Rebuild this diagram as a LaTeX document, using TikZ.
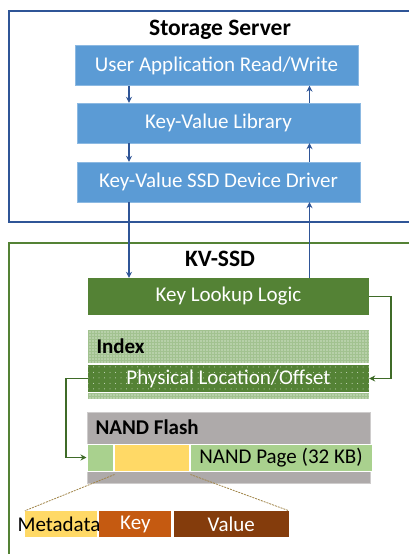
\documentclass[tikz,border=0pt]{standalone}
\usepackage{fontspec}
\setmainfont{Carlito}
\usetikzlibrary{arrows.meta,calc,patterns.meta}
\definecolor{srvblue}{HTML}{2F5597}
\definecolor{boxblue}{HTML}{5B9BD5}
\definecolor{ssdgreen}{HTML}{548235}
\definecolor{arrgreen}{HTML}{3F6B28}
\definecolor{idxgreen}{HTML}{A2C290}
\definecolor{pagegreen}{HTML}{A9D18E}
\definecolor{slotyellow}{HTML}{FFD966}
\definecolor{flashgray}{HTML}{AEAAAA}
\definecolor{keyorange}{HTML}{C55A11}
\definecolor{valbrown}{HTML}{843C0C}
\definecolor{zoomline}{HTML}{A08448}

\begin{document}
\begin{tikzpicture}[x=1pt,y=-1pt,
    txt/.style={font=\fontsize{21}{25}\selectfont},
    hdtxt/.style={font=\fontsize{21}{25}\selectfont\bfseries},
    ttl/.style={font=\fontsize{23.5}{28}\selectfont\bfseries},
    layer/.style={txt,text=white,fill=boxblue,draw=boxblue!70!white,minimum width=283,minimum height=40,inner sep=0},
    ssdbox/.style={txt,inner sep=0,minimum width=281},
    barr/.style={draw=srvblue,line width=1.5pt,-{Stealth[length=6pt,width=6pt]}},
    garr/.style={draw=arrgreen,line width=1.5pt,-{Stealth[length=6pt,width=6pt]}},
    cell/.style={txt,inner sep=0,minimum height=27,draw=white,line width=1pt}]
  \useasboundingbox (0,0) rectangle (409,554);
  \clip (0,0) rectangle (409,554);

  % host side
  \draw[srvblue,line width=2.5pt] (9,11) rectangle (420,222);
  \node[ttl] (srvtitle) at (220,30) {Storage Server};
  \node[layer] (app) at (216.5,65.5) {User Application Read/Write};
  \node[layer] (lib) at (218.5,123) {Key-Value Library};
  \node[layer] (drv) at (218.5,182) {Key-Value SSD Device Driver};
  \coordinate (dn) at (129,0);
  \coordinate (up) at (309.5,0);

  \draw[barr] (app.south -| dn) -- (lib.north -| dn);
  \draw[barr] (lib.south -| dn) -- (drv.north -| dn);
  \draw[barr] (lib.north -| up) -- (app.south -| up);
  \draw[barr] (drv.north -| up) -- (lib.south -| up);

  % device side
  \draw[ssdgreen,line width=2.5pt] (9,243) rectangle (420,570);
  \node[ttl] (ssdtitle) at (220,259) {KV-SSD};
  \node[ssdbox,fill=ssdgreen,text=white,minimum height=37] (lookup) at (228.5,296.5) {Key Lookup Logic};

  \draw[barr] (drv.south -| dn) -- (lookup.north -| dn);
  \draw[barr] (lookup.north -| up) -- (drv.south -| up);

  % index
  \node[ssdbox,minimum height=33,preaction={fill=idxgreen},pattern={Dots[distance=3pt,radius=0.55pt]},pattern color=white] (idx) at (228.5,346.5) {};
  \node[hdtxt,anchor=west] (idxlabel) at (93,346) {Index};
  \node[ssdbox,minimum height=27,text=white,preaction={fill=ssdgreen},pattern={Dots[distance=5.5pt,radius=0.5pt]},pattern color=white!75!ssdgreen] (loc) at (228.5,378.5) {Physical Location/Offset};
  \node[ssdbox,minimum height=6,preaction={fill=idxgreen},pattern={Dots[distance=3pt,radius=0.55pt]},pattern color=white] (idxend) at (228.5,396) {};

  \draw[garr] (lookup.east) -- ++(22,0) |- (loc.east);

  % flash
  \node[fill=flashgray,draw=flashgray!60!white,minimum width=283,minimum height=71,inner sep=0] (flash) at (228.5,447.5) {};
  \node[hdtxt,anchor=west] (flashlabel) at (92,427) {NAND Flash};
  \node[cell,fill=pagegreen,minimum width=26] (hdr) at (100,457.5) {};
  \node[cell,fill=slotyellow,minimum width=75,anchor=west] (slot) at (hdr.east) {};
  \node[cell,fill=pagegreen,minimum width=182,anchor=west] (page) at (slot.east) {NAND Page (32 KB)};

  \draw[garr] (loc.west) -- ++(-22,0) |- (hdr.west);

  % one pair
  \node[fill=slotyellow,minimum width=72,minimum height=26,inner sep=0] (meta) at (61,524) {};
  \node[txt] (metalabel) at (59,524) {Metadata};
  \node[txt,fill=keyorange,text=white,minimum width=72,minimum height=26,inner sep=0,anchor=west] (key) at ($(meta.east)+(2,0)$) {Key};
  \node[txt,fill=valbrown,text=white,minimum width=115,minimum height=26,inner sep=0,anchor=west] (val) at ($(key.east)+(2,0)$) {Value};

  \draw[zoomline,dashed,line width=0.8pt,dash pattern=on 2pt off 1pt] ($(slot.south west)+(1,3)$) -- (meta.north west);
  \draw[zoomline,dashed,line width=0.8pt,dash pattern=on 2pt off 1pt] ($(slot.south east)+(1,3)$) -- (val.north east);
\end{tikzpicture}
\end{document}
